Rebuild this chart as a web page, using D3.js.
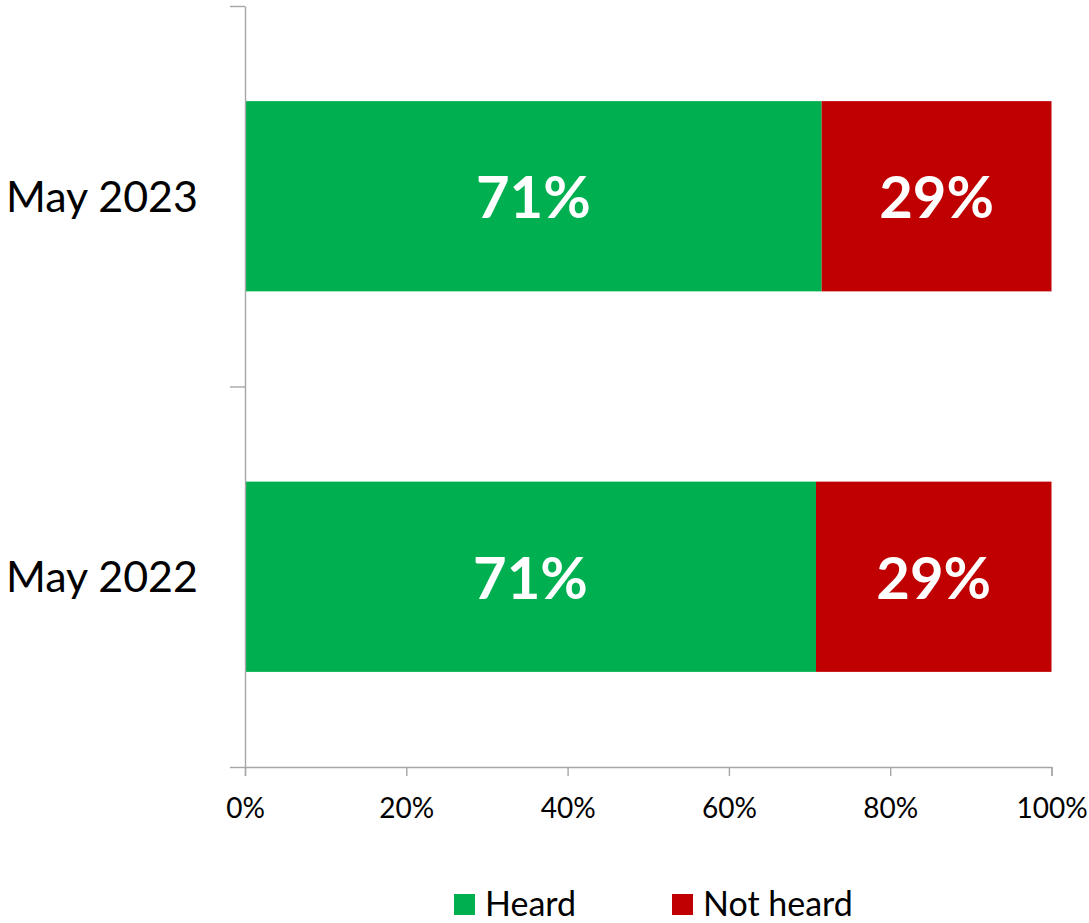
<!DOCTYPE html>
<html>
<head>
<meta charset="utf-8">
<script src="https://cdn.jsdelivr.net/npm/d3@7"></script>
<style>
  body { margin: 0; background: #fff; }
  text { font-family: Lato, "Open Sans", sans-serif; }
</style>
</head>
<body>
<div id="chart"></div>
<script>
// data
const categories = ["May 2023", "May 2022"];
const heard = [71.5, 70.8];
const notHeard = [28.5, 29.2];
const heardLabels = ["71%", "71%"];
const notHeardLabels = ["29%", "29%"];
const seriesNames = ["Heard", "Not heard"];
const seriesColors = ["#00B050", "#C00000"];
const xTicks = [0, 20, 40, 60, 80, 100];

const width = 1089, height = 923;
const plot = { left: 245, right: 1051.5, top: 6, bottom: 767 };

const svg = d3.select("#chart")
  .append("svg")
  .attr("width", width)
  .attr("height", height);

const x = d3.scaleLinear().domain([0, 100]).range([plot.left, plot.right]);

const y = d3.scaleBand()
  .domain(categories)
  .range([plot.top, plot.bottom])
  .paddingInner(0.5)
  .paddingOuter(0.25);

// boundary ticks for the category axis
const yBound = d3.scaleLinear().domain([0, categories.length]).range([plot.bottom, plot.top]);

const rows = categories.map((c, i) => ({
  cat: c,
  segs: [
    { x0: 0, x1: heard[i], color: seriesColors[0], label: heardLabels[i] },
    { x0: heard[i], x1: heard[i] + notHeard[i], color: seriesColors[1], label: notHeardLabels[i] }
  ]
}));

// bars
const rowG = svg.selectAll(".row")
  .data(rows)
  .enter().append("g")
  .attr("class", "row");

rowG.selectAll("rect")
  .data(d => d.segs.map(s => Object.assign({ cat: d.cat }, s)))
  .enter().append("rect")
  .attr("x", d => x(d.x0))
  .attr("y", d => y(d.cat))
  .attr("width", d => x(d.x1) - x(d.x0))
  .attr("height", y.bandwidth())
  .attr("fill", d => d.color);

rowG.selectAll(".lbl")
  .data(d => d.segs.map(s => Object.assign({ cat: d.cat }, s)))
  .enter().append("text")
  .attr("class", "lbl")
  .attr("x", d => (x(d.x0) + x(d.x1)) / 2)
  .attr("y", d => y(d.cat) + y.bandwidth() / 2)
  .attr("dy", "0.38em")
  .attr("text-anchor", "middle")
  .attr("fill", "#fff")
  .style("font-size", "58px")
  .style("font-weight", "bold")
  .text(d => d.label);

// x axis
const xAxisG = svg.append("g")
  .attr("transform", `translate(0,${plot.bottom})`)
  .call(d3.axisBottom(x).tickValues(xTicks).tickSize(9).tickFormat(d => d + "%"));

xAxisG.selectAll("text")
  .attr("dy", null)
  .attr("y", 51)
  .attr("fill", "#000")
  .style("font-size", "28px");

// y axis (boundary ticks)
const yAxisG = svg.append("g")
  .attr("transform", `translate(${plot.left},0)`)
  .call(d3.axisLeft(yBound).tickValues(d3.range(categories.length + 1)).tickSize(15).tickSizeOuter(0).tickFormat(""));

svg.selectAll(".domain, .tick line")
  .attr("stroke", "#a6a6a6")
  .attr("stroke-width", 1.4);

// category labels
svg.append("g")
  .selectAll("text")
  .data(categories)
  .enter().append("text")
  .attr("x", plot.left - 47)
  .attr("y", d => y(d) + y.bandwidth() / 2)
  .attr("dy", "0.36em")
  .attr("text-anchor", "end")
  .attr("fill", "#000")
  .style("font-size", "43px")
  .text(d => d);

// legend
const legendX = [454, 672];
const legend = svg.append("g")
  .selectAll("g")
  .data(seriesNames)
  .enter().append("g")
  .attr("transform", (d, i) => `translate(${legendX[i]},894)`);

legend.append("rect")
  .attr("width", 21)
  .attr("height", 21)
  .attr("fill", (d, i) => seriesColors[i]);

legend.append("text")
  .attr("x", 31)
  .attr("y", 22)
  .attr("fill", "#000")
  .style("font-size", "34px")
  .text(d => d);
</script>
</body>
</html>
